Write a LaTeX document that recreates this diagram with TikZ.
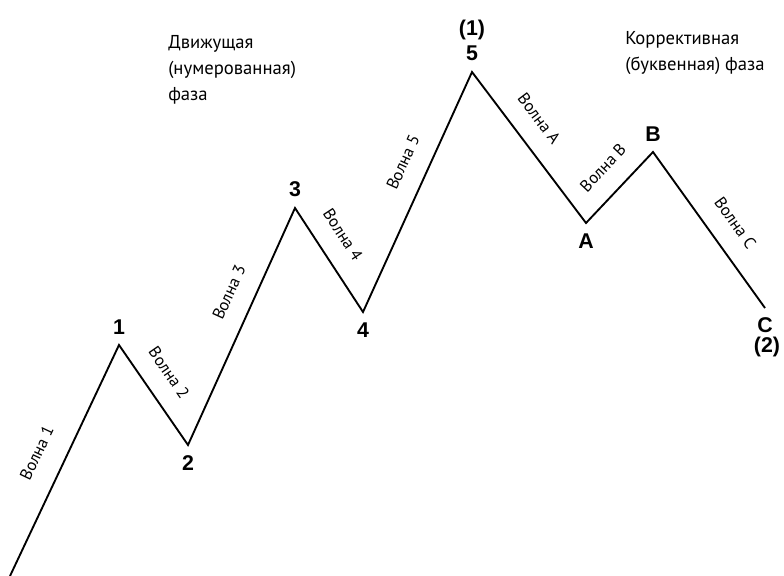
\documentclass[tikz,border=0pt]{standalone}
\usepackage{fontspec}
\setmainfont{PT Sans}
\newfontfamily\numfont{Liberation Sans}
\usetikzlibrary{positioning}

\tikzset{
  wave/.style={line width=1.4pt, line join=miter},
  wavelabel/.style={sloped, above=14pt, inner sep=0pt, font=\fontsize{12.5}{14}\selectfont},
  pointlabel/.style={inner sep=0pt, font=\numfont\bfseries\fontsize{16}{18}\selectfont},
  phase/.style={anchor=north west, inner sep=0pt, align=left, font=\fontsize{14}{19.5}\selectfont}
}

\begin{document}
\begin{tikzpicture}[x=0.75pt,y=0.75pt]
\useasboundingbox (0,0) rectangle (784,575);

%Wave points
\coordinate (p0) at (10,-1);
\coordinate (p1) at (119,230);
\coordinate (p2) at (188,130);
\coordinate (p3) at (295,367);
\coordinate (p4) at (363,263);
\coordinate (p5) at (472,503);
\coordinate (pA) at (586,352);
\coordinate (pB) at (653,423);
\coordinate (pC) at (765,267);

%Wave line
\draw [wave] (p0) -- node [wavelabel, pos=0.48, above=16pt] (w1) {Волна 1}
  (p1) -- node [wavelabel, pos=0.42] (w2) {Волна 2}
  (p2) -- node [wavelabel, pos=0.60] (w3) {Волна 3}
  (p3) -- node [wavelabel, pos=0.39] (w4) {Волна 4}
  (p4) -- node [wavelabel, pos=0.58] (w5) {Волна 5}
  (p5) -- node [wavelabel, pos=0.41] (wA) {Волна A}
  (pA) -- node [wavelabel, pos=0.53] (wB) {Волна B}
  (pB) -- node [wavelabel, pos=0.55] (wC) {Волна C} (pC);

% Point labels
\node [pointlabel, above=8pt of p1] (n1) {1};
\node [pointlabel, below=8pt of p2] (n2) {2};
\node [pointlabel, above=8pt of p3] (n3) {3};
\node [pointlabel, below=8pt of p4] (n4) {4};
\node [pointlabel, above=8pt of p5] (n5) {5};
\node [pointlabel, above=4pt of n5] (top1) {(1)};
\node [pointlabel, below=8pt of pA] (nA) {A};
\node [pointlabel, above=8pt of pB] (nB) {B};
\node [pointlabel, below=7pt of pC] (nC) {C};
\node [pointlabel, below=3pt of nC, xshift=1.5pt] (bot2) {(2)};

% Phase names
\node [phase] (impulse) at (168,540) {Движущая\\(нумерованная)\\фаза};
\node [phase] (correct) at (625,544) {Коррективная\\(буквенная) фаза};

\end{tikzpicture}
\end{document}
